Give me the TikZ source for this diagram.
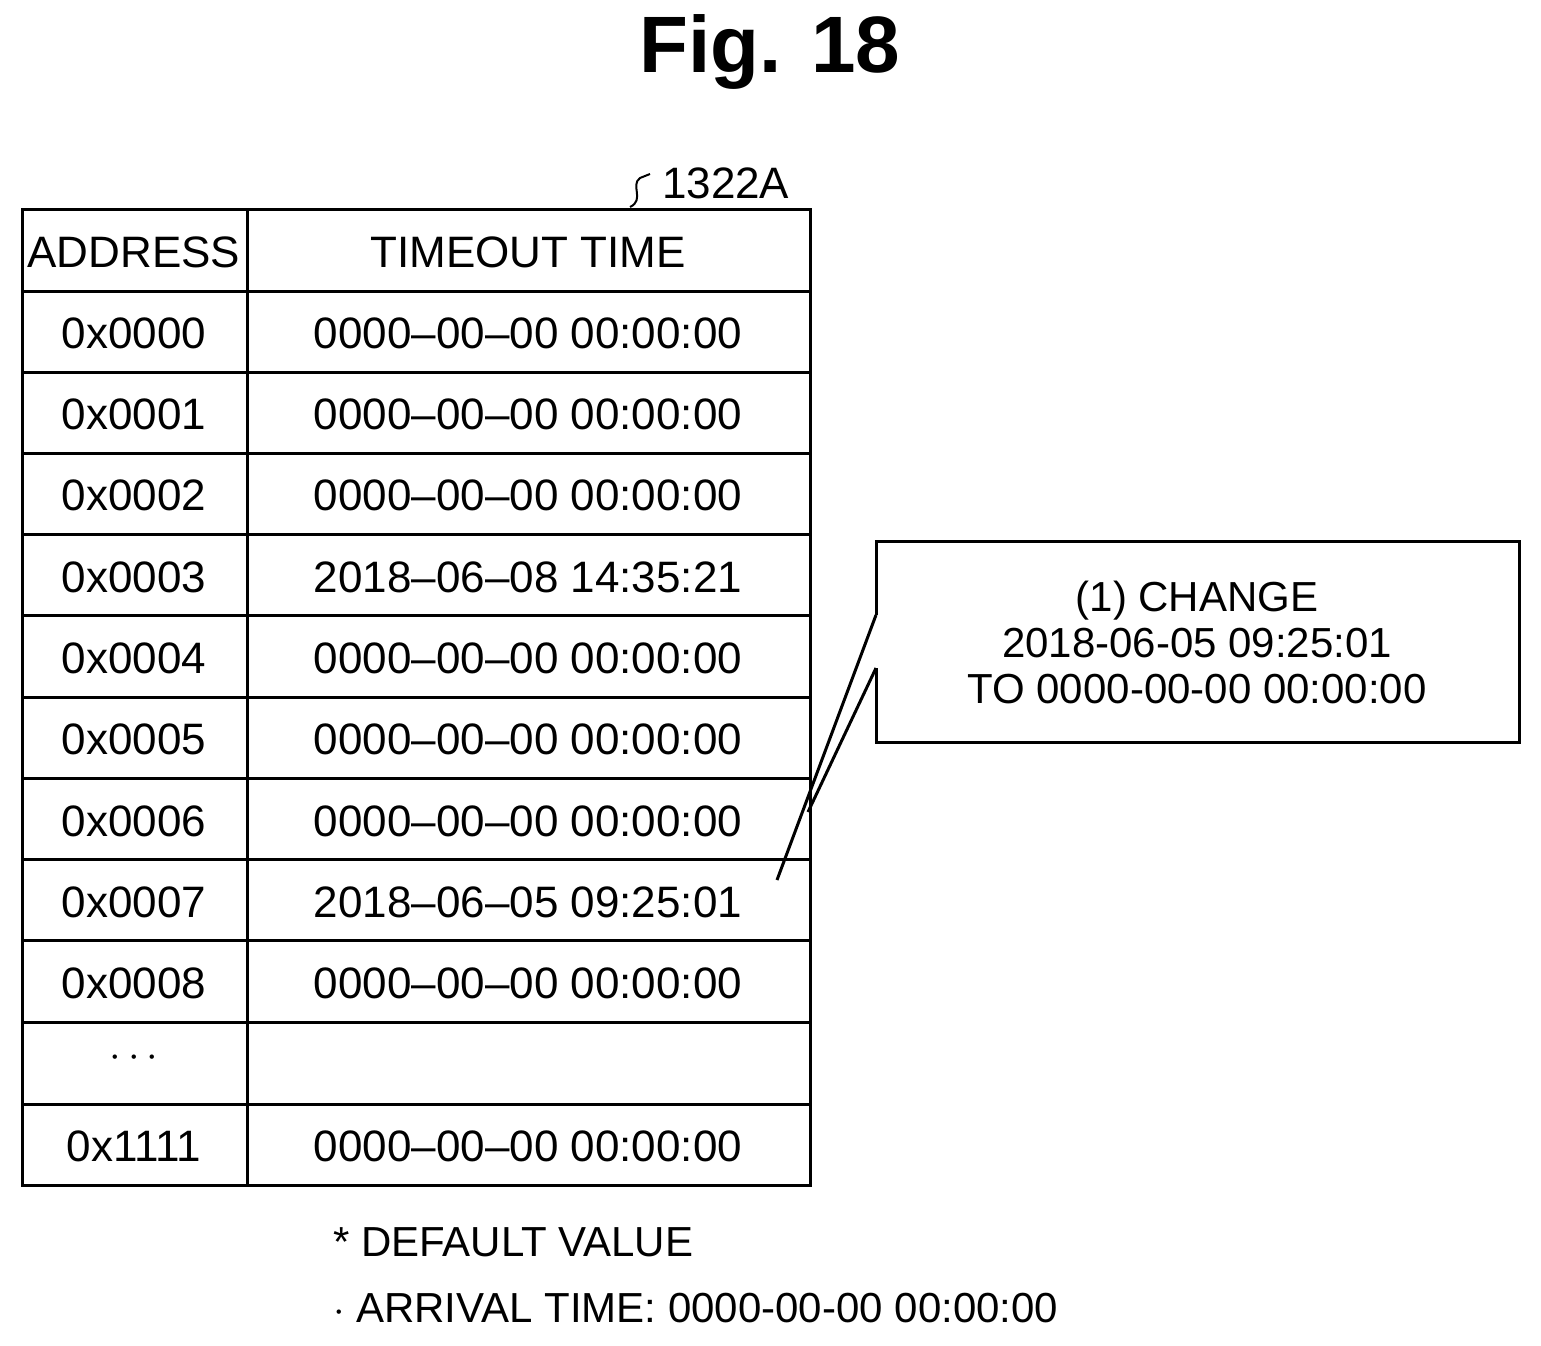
\documentclass[tikz,border=0pt]{standalone}
\usepackage{fontspec}
\setmainfont{Liberation Sans}
\begin{document}
\begin{tikzpicture}[x=0.5pt,y=-0.5pt,
  cell/.style={font=\fontsize{22}{26}\selectfont},
  note/.style={font=\fontsize{21}{25}\selectfont},
  ln/.style={line width=1.5pt}]
\useasboundingbox (0,0) rectangle (1541,1345);
\node[font=\bfseries\fontsize{40}{46}\selectfont] (title) at (770,52) {Fig. 18};
% table grid
\draw[ln] (22,209) rectangle (810,1185);
\draw[ln] (247,209) -- (247,1185);
\foreach \yy in {291,372,453,534,615,697,778,859,940,1022,1104}{\draw[ln] (22,\yy) -- (810,\yy);}
\node[cell] (h1) at (134,252) {ADDRESS};
\node[cell] (h2) at (528,252) {TIMEOUT TIME};
\foreach \a/\t [count=\k] in {0x0000/0000--00--00 00:00:00,0x0001/0000--00--00 00:00:00,0x0002/0000--00--00 00:00:00,0x0003/2018--06--08 14:35:21,0x0004/0000--00--00 00:00:00,0x0005/0000--00--00 00:00:00,0x0006/0000--00--00 00:00:00,0x0007/2018--06--05 09:25:01,0x0008/0000--00--00 00:00:00}{
  \pgfmathsetmacro\yc{209+81.33*(\k+0.5)+2}
  \node[cell] (a\k) at (134,\yc) {\a};
  \node[cell] (t\k) at (528,\yc) {\t};
}
\node[cell] (dots) at (134,1058) {$\cdots$};
\node[cell] (a11) at (134,1146) {0x1111};
\node[cell] (t11) at (528,1146) {0000--00--00 00:00:00};
% label
\node[cell,anchor=west] (lab) at (655,183) {1322A};
\draw[line width=1pt] (630,207) .. controls (645,200) and (630,185) .. (640,178) -- (650,174);
% callout
\coordinate (p1) at (876,615);
\coordinate (p2) at (876,668);
\coordinate (tip) at (777,880);
\coordinate (e2) at (808,812);
\draw[ln] (p1) -- (876,541) -- (1519,541) -- (1519,742) -- (876,742) -- (p2);
\draw[ln] (p1) -- (tip);
\draw[ln] (p2) -- (e2);
\node[note,align=center] (cl) at (1197,642) {(1) CHANGE\\[-2pt]2018-06-05 09:25:01\\[-2pt]TO 0000-00-00 00:00:00};
% footnote
\node[note,anchor=west] (f1) at (326,1242) {* DEFAULT VALUE};
\node[note,anchor=west] (f2) at (326,1308) {$\cdot$ ARRIVAL TIME: 0000-00-00 00:00:00};
\end{tikzpicture}
\end{document}
